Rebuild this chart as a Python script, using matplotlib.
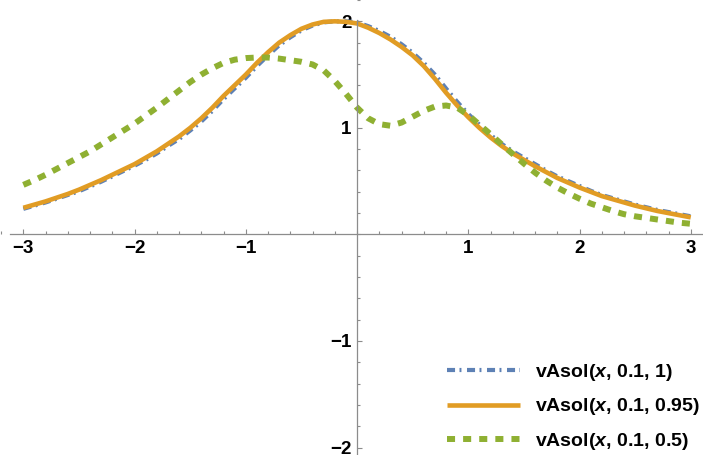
import matplotlib
matplotlib.use("Agg")
import matplotlib.pyplot as plt
from matplotlib.ticker import MultipleLocator, FixedLocator

# values (x step 0.1 from -3 to 3)
x_vals = [-3.0, -2.9, -2.8, -2.7, -2.6, -2.5, -2.4, -2.3, -2.2, -2.1,
          -2.0, -1.9, -1.8, -1.7, -1.6, -1.5, -1.4, -1.3, -1.2, -1.1,
          -1.0, -0.9, -0.8, -0.7, -0.6, -0.5, -0.4, -0.3, -0.2, -0.1,
          0.0, 0.1, 0.2, 0.3, 0.4, 0.5, 0.6, 0.7, 0.8, 0.9,
          1.0, 1.1, 1.2, 1.3, 1.4, 1.5, 1.6, 1.7, 1.8, 1.9,
          2.0, 2.1, 2.2, 2.3, 2.4, 2.5, 2.6, 2.7, 2.8, 2.9, 3.0]
v_one = [0.24, 0.27, 0.30, 0.335, 0.37, 0.405, 0.45, 0.495, 0.545, 0.595,
         0.645, 0.70, 0.76, 0.83, 0.895, 0.975, 1.06, 1.16, 1.27, 1.37,
         1.47, 1.58, 1.68, 1.775, 1.85, 1.915, 1.96, 1.99, 2.00, 2.00,
         1.99, 1.955, 1.91, 1.855, 1.785, 1.705, 1.61, 1.50, 1.37, 1.245,
         1.13, 1.03, 0.935, 0.85, 0.78, 0.72, 0.66, 0.60, 0.545, 0.50,
         0.455, 0.41, 0.37, 0.34, 0.31, 0.28, 0.255, 0.23, 0.21, 0.19, 0.17]
v_095 = [0.25, 0.28, 0.31, 0.345, 0.38, 0.42, 0.465, 0.51, 0.56, 0.61,
         0.66, 0.72, 0.78, 0.85, 0.92, 1.00, 1.09, 1.19, 1.30, 1.40,
         1.50, 1.61, 1.71, 1.80, 1.87, 1.93, 1.97, 1.995, 2.00, 1.995,
         1.98, 1.94, 1.89, 1.83, 1.76, 1.68, 1.58, 1.46, 1.33, 1.21,
         1.10, 1.00, 0.91, 0.83, 0.76, 0.70, 0.64, 0.585, 0.53, 0.485,
         0.44, 0.40, 0.36, 0.33, 0.30, 0.27, 0.245, 0.22, 0.20, 0.18, 0.16]
v_half = [0.465, 0.51, 0.56, 0.615, 0.67, 0.725, 0.78, 0.845, 0.91, 0.975,
          1.04, 1.115, 1.19, 1.27, 1.35, 1.43, 1.50, 1.56, 1.61, 1.64,
          1.655, 1.66, 1.66, 1.65, 1.635, 1.62, 1.595, 1.54, 1.44, 1.32,
          1.19, 1.09, 1.035, 1.02, 1.05, 1.105, 1.16, 1.20, 1.21, 1.19,
          1.12, 1.03, 0.94, 0.845, 0.755, 0.665, 0.58, 0.505, 0.44, 0.385,
          0.335, 0.29, 0.255, 0.22, 0.19, 0.17, 0.155, 0.14, 0.125, 0.11, 0.10]

labels = ["vAsol($x$, 0.1, 1)", "vAsol($x$, 0.1, 0.95)", "vAsol($x$, 0.1, 0.5)"]
colors = ["#5E81B5", "#E19C24", "#8FB032"]

plt.rcParams["font.family"] = ["Liberation Sans", "DejaVu Sans"]
plt.rcParams["font.weight"] = "bold"
plt.rcParams["mathtext.fontset"] = "custom"
plt.rcParams["mathtext.it"] = "Liberation Sans:italic:bold"
plt.rcParams["mathtext.rm"] = "Liberation Sans:bold"
plt.rcParams["lines.scale_dashes"] = False

fig = plt.figure(figsize=(7.03, 4.55), dpi=100)
ax = fig.add_axes([0, 0, 1, 1])

ax.plot(x_vals, v_one, color=colors[0], lw=3.0,
        dashes=(5.8, 3.2, 1.4, 4.0), label=labels[0])
ax.plot(x_vals, v_095, color=colors[1], lw=3.3, solid_capstyle="butt",
        label=labels[1])
ax.plot(x_vals, v_half, color=colors[2], lw=4.3,
        dashes=(5.8, 5.8), dash_capstyle="butt", label=labels[2])

ax.set_xlim(-3.21, 3.11)
ax.set_ylim(-2.07, 2.20)

for side in ["top", "right"]:
    ax.spines[side].set_visible(False)
ax.spines["left"].set_position(("data", 0))
ax.spines["bottom"].set_position(("data", 0))
ax.spines["left"].set_bounds(-2.07, 2.01)
ax.spines["bottom"].set_bounds(-3.12, 3.11)
for side in ["left", "bottom"]:
    ax.spines[side].set_color("#8c8c8c")
    ax.spines[side].set_linewidth(0.9)

minus = lambda v, p: f"{v:.0f}".replace("-", "\u2212")
ax.xaxis.set_major_locator(FixedLocator([-3, -2, -1, 1, 2, 3]))
ax.yaxis.set_major_locator(FixedLocator([-2, -1, 1, 2]))
ax.xaxis.set_minor_locator(MultipleLocator(0.2))
ax.yaxis.set_minor_locator(MultipleLocator(0.2))
ax.xaxis.set_major_formatter(plt.FuncFormatter(minus))
ax.yaxis.set_major_formatter(plt.FuncFormatter(minus))
ax.tick_params(which="both", direction="in", color="#8c8c8c", width=0.8)
ax.tick_params(which="major", length=3.6)
ax.tick_params(which="minor", length=2.0)
ax.tick_params(axis="x", which="major", pad=4, labelsize=13.5)
ax.tick_params(axis="y", which="major", pad=4, labelsize=13.5)
for t in ax.get_xticklabels() + ax.get_yticklabels():
    t.set_fontweight("bold")

ax.legend(loc="lower right", bbox_to_anchor=(1.0, 0.0), frameon=False,
          prop={"weight": "bold", "size": 14}, handlelength=3.75,
          handletextpad=0.8, labelspacing=0.7, borderpad=0.0, borderaxespad=0.15)

fig.savefig("out.png", dpi=100)
